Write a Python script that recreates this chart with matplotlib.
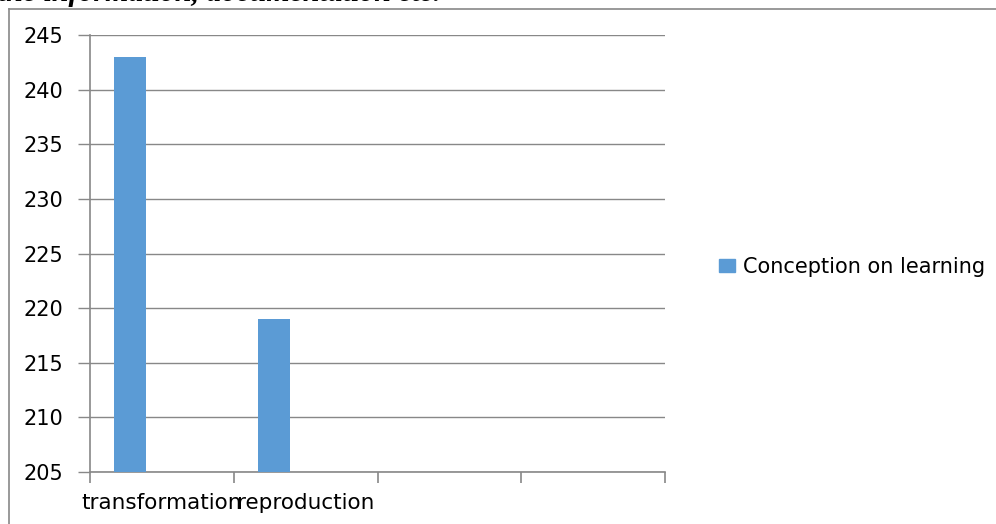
import matplotlib.pyplot as plt
from matplotlib.lines import Line2D
from matplotlib.patches import Patch
import numpy as np

categories = ['transformation', 'reproduction', '', '']
values = [243, 219, np.nan, np.nan]
series_name = 'Conception on learning'
yticks = [205, 210, 215, 220, 225, 230, 235, 240, 245]

W, H = 996, 524
fig = plt.figure(figsize=(W / 100, H / 100), dpi=100)
plt.rcParams['font.family'] = 'DejaVu Sans'

# caption line from the page above the chart, cut by the top edge as in the source
fig.text(-0.002, 1 - 1 / H, 'the information, documentation etc.',
         fontfamily='Liberation Serif', fontweight='bold', fontstyle='italic',
         fontsize=21.5, va='baseline', ha='left')

# chart frame (only top and left visible)
gray = '#888888'
fig.add_artist(Line2D([9 / W, 1], [1 - 9 / H, 1 - 9 / H], color=gray, lw=1.2,
                      transform=fig.transFigure))
fig.add_artist(Line2D([9 / W, 9 / W], [0, 1 - 9 / H], color=gray, lw=1.2,
                      transform=fig.transFigure))

ax = fig.add_axes([90 / W, 1 - 472 / H, (665 - 90) / W, (472 - 35) / H])
x = np.arange(len(categories))
bw = 0.222
ax.bar(x - bw, values, width=bw, color='#5B9BD5', zorder=3)

ax.set_ylim(205, 245)
ax.set_xlim(-0.5, len(categories) - 0.5)
ax.set_yticks(yticks)
ax.set_xticks(x)
ax.set_xticklabels(categories)
ax.set_xticks(np.arange(len(categories) + 1) - 0.5, minor=True)
ax.tick_params(axis='x', which='major', length=0, pad=15, labelsize=15.5)
ax.tick_params(axis='x', which='minor', length=8, color=gray, width=1.2)
ax.tick_params(axis='y', length=9, color=gray, width=1, labelsize=15, pad=10)
ax.grid(axis='y', color=gray, lw=1, zorder=0)

for s in ['top', 'right']:
    ax.spines[s].set_visible(False)
for s in ['left', 'bottom']:
    ax.spines[s].set_color(gray)
    ax.spines[s].set_linewidth(1.2)

fig.legend(handles=[Patch(color='#5B9BD5', label=series_name)],
           loc='center left', bbox_to_anchor=(719 / W, 1 - 267 / H),
           frameon=False, fontsize=15, borderpad=0, borderaxespad=0,
           handlelength=0.77, handleheight=0.63, handletextpad=0.38)

fig.savefig('out.png', dpi=100)
